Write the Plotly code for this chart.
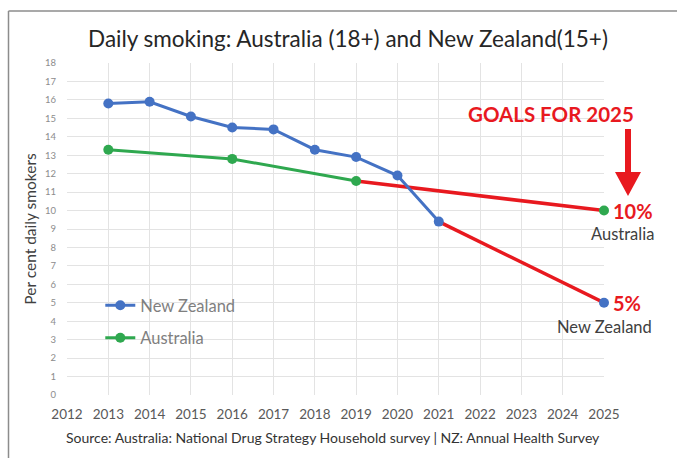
import plotly.graph_objects as go

# Daily smoking rates (per cent of population)
nz_years = [2013, 2014, 2015, 2016, 2017, 2018, 2019, 2020, 2021]
nz_values = [15.8, 15.9, 15.1, 14.5, 14.4, 13.3, 12.9, 11.9, 9.4]
au_years = [2013, 2016, 2019]
au_values = [13.3, 12.8, 11.6]

# 2025 targets
goal_year = 2025
nz_goal = 5.0
au_goal = 10.0

x_ticks = list(range(2012, 2026))
y_ticks = list(range(0, 19))

BLUE = "#4472C4"
GREEN = "#2FA84F"
RED = "#E8191F"
FONT = "Lato"

# plot-area geometry in pixels (used to place paper-referenced decorations)
W, H = 677, 458
ML, MR, MT, MB = 67, 73, 63, 63
PW, PH = W - ML - MR, H - MT - MB


def px(x):
    return (x - ML) / PW


def py(y):
    return (H - MB - y) / PH


fig = go.Figure()

# Projected paths from latest observation to the 2025 goal
fig.add_trace(go.Scatter(
    x=[nz_years[-1], goal_year], y=[nz_values[-1], nz_goal],
    mode="lines", line=dict(color=RED, width=3.5),
    showlegend=False, hoverinfo="skip", cliponaxis=False))
fig.add_trace(go.Scatter(
    x=[au_years[-1], goal_year], y=[au_values[-1], au_goal],
    mode="lines", line=dict(color=RED, width=3.5),
    showlegend=False, hoverinfo="skip", cliponaxis=False))

# Observed series
fig.add_trace(go.Scatter(
    x=nz_years, y=nz_values, name="New Zealand", legendgroup="nz",
    mode="lines+markers", line=dict(color=BLUE, width=3),
    marker=dict(color=BLUE, size=10), cliponaxis=False))
fig.add_trace(go.Scatter(
    x=au_years, y=au_values, name="Australia", legendgroup="au",
    mode="lines+markers", line=dict(color=GREEN, width=3),
    marker=dict(color=GREEN, size=10), cliponaxis=False))

# Goal markers
fig.add_trace(go.Scatter(
    x=[goal_year], y=[nz_goal], mode="markers",
    marker=dict(color=BLUE, size=10), showlegend=False, cliponaxis=False))
fig.add_trace(go.Scatter(
    x=[goal_year], y=[au_goal], mode="markers",
    marker=dict(color=GREEN, size=10), showlegend=False, cliponaxis=False))

annotations = [
    dict(x=goal_year, y=au_goal, text="<b>10%</b>", xref="x", yref="y",
         xanchor="left", yanchor="middle", xshift=7, showarrow=False,
         font=dict(family=FONT, size=20, color=RED)),
    dict(x=goal_year, y=au_goal, text="Australia", xref="x", yref="y",
         xanchor="center", yanchor="middle", xshift=18, yshift=-23,
         showarrow=False, font=dict(family=FONT, size=16.5, color="#404040")),
    dict(x=goal_year, y=nz_goal, text="<b>5%</b>", xref="x", yref="y",
         xanchor="left", yanchor="middle", xshift=7, showarrow=False,
         font=dict(family=FONT, size=20, color=RED)),
    dict(x=goal_year, y=nz_goal, text="New Zealand", xref="x", yref="y",
         xanchor="center", yanchor="middle", xshift=0, yshift=-24,
         showarrow=False, font=dict(family=FONT, size=16.5, color="#404040")),
    dict(x=px(551), y=py(114), text="<b>GOALS FOR 2025</b>", xref="paper",
         yref="paper", xanchor="center", yanchor="middle", showarrow=False,
         font=dict(family=FONT, size=20.5, color=RED)),
    dict(x=px(333), y=py(437), xref="paper", yref="paper", xanchor="center",
         yanchor="middle", showarrow=False,
         text="Source: Australia: National Drug Strategy Household survey | NZ: Annual Health Survey",
         font=dict(family=FONT, size=14, color="#333333")),
]

# Downward arrow pointing at the 2025 targets (shaft + head)
arrow_path = (
    f"M {px(625)},{py(129)} L {px(631)},{py(129)} L {px(631)},{py(172)} "
    f"L {px(641)},{py(172)} L {px(628)},{py(196)} L {px(615)},{py(172)} "
    f"L {px(625)},{py(172)} Z"
)

shapes = [
    # chart frame (left and top edges)
    dict(type="line", xref="paper", yref="paper", x0=px(8.5), x1=px(8.5),
         y0=py(470), y1=py(11), line=dict(color="#8c8c8c", width=1.5)),
    dict(type="line", xref="paper", yref="paper", x0=px(8.5), x1=px(690),
         y0=py(11), y1=py(11), line=dict(color="#8c8c8c", width=1.5)),
    dict(type="path", xref="paper", yref="paper", path=arrow_path,
         fillcolor=RED, line=dict(color=RED, width=0)),
]

fig.update_layout(
    width=W, height=H,
    margin=dict(l=ML, r=MR, t=MT, b=MB),
    paper_bgcolor="white", plot_bgcolor="white",
    title=dict(text="Daily smoking: Australia (18+) and New Zealand(15+)",
               x=px(348), xanchor="center", y=1 - 39 / H, yanchor="middle",
               xref="paper",
               font=dict(family=FONT, size=22.5, color="#262626")),
    font=dict(family=FONT),
    showlegend=True,
    legend=dict(x=0.062, y=0.322, xanchor="left", yanchor="top",
                bgcolor="rgba(0,0,0,0)", tracegroupgap=8,
                font=dict(family=FONT, size=16.5, color="#7f7f7f")),
    annotations=annotations,
    shapes=shapes,
)

fig.update_xaxes(range=[2012, 2025], tickvals=x_ticks,
                 ticktext=[str(v) for v in x_ticks],
                 showgrid=True, gridcolor="#e3e3e3", gridwidth=1,
                 zeroline=False, showline=False, ticks="",
                 ticklabelstandoff=9,
                 tickfont=dict(family=FONT, size=13.5, color="#595959"))
fig.update_yaxes(range=[0, 18], tickvals=y_ticks,
                 showgrid=True, gridcolor="#e3e3e3", gridwidth=1,
                 zeroline=False, showline=False, ticks="",
                 ticklabelstandoff=10,
                 title=dict(text="Per cent daily smokers", standoff=4,
                            font=dict(family=FONT, size=15.5, color="#404040")),
                 tickfont=dict(family=FONT, size=9.5, color="#8c8c8c"))

fig.write_html("out.html")
